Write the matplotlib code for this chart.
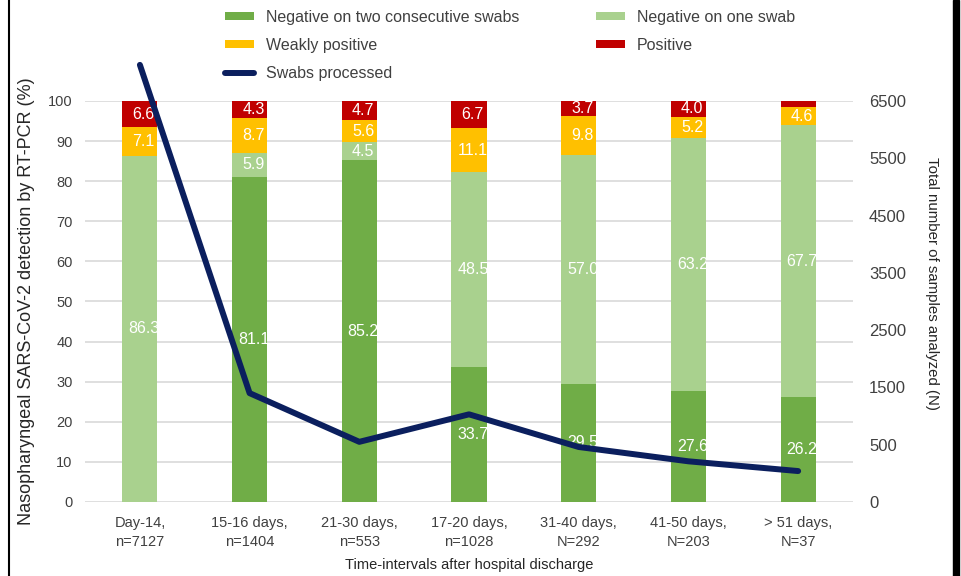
import numpy as np
import matplotlib
matplotlib.use('Agg')
import matplotlib.pyplot as plt
from matplotlib.lines import Line2D
from matplotlib.patches import Rectangle
from matplotlib.transforms import Bbox, TransformedBbox

plt.rcParams['font.family'] = ['Liberation Sans', 'DejaVu Sans']

intervals = ['Day-14,\nn=7127', '15-16 days,\nn=1404', '21-30 days,\nn=553',
             '17-20 days,\nn=1028', '31-40 days,\nN=292', '41-50 days,\nN=203',
             '> 51 days,\nN=37']
neg_two = [0, 81.1, 85.2, 33.7, 29.5, 27.6, 26.2]
neg_one = [86.3, 5.9, 4.5, 48.5, 57.0, 63.2, 67.7]
weak_pos = [7.1, 8.7, 5.6, 11.1, 9.8, 5.2, 4.6]
positive = [6.6, 4.3, 4.7, 6.7, 3.7, 4.0, 1.5]
swabs = [7130, 1400, 550, 1030, 460, 210, 40]

right_ticks = [-500, 500, 1500, 2500, 3500, 4500, 5500, 6500]
right_labels = ['0', '500', '1500', '2500', '3500', '4500', '5500', '6500']

c_neg_two = '#70ad47'
c_neg_one = '#a9d18e'
c_weak = '#ffc000'
c_pos = '#c00000'
c_line = '#0b1f5e'
txt = '#404040'

fig = plt.figure(figsize=(9.61, 5.76), dpi=100)
ax = fig.add_axes([0.0885, 0.1285, 0.7991, 0.6962])
x = np.arange(len(intervals))
w = 0.32

series = [(neg_two, c_neg_two, 'Negative on two consecutive swabs'),
          (neg_one, c_neg_one, 'Negative on one swab'),
          (weak_pos, c_weak, 'Weakly positive'),
          (positive, c_pos, 'Positive')]

bottom = np.zeros(len(x))
bars = []
for vals, col, name in series:
    vals = np.array(vals)
    b = ax.bar(x, vals, w, bottom=bottom, color=col, label=name, zorder=2)
    bars.append(b)
    for i, v in enumerate(vals):
        if v < 3:
            continue
        t = ax.text(x[i] + 0.035, bottom[i] + v / 2, f'{v:.1f}', ha='center',
                    va='center', color='white', fontsize=11.5, zorder=3)
        box = Bbox.from_bounds(x[i] - w / 2, bottom[i], w, v)
        t.set_clip_box(TransformedBbox(box, ax.transData))
        t.set_clip_on(True)
    bottom += vals

ax.set_xlim(-0.5, 6.5)
ax.set_ylim(0, 100)
ax.set_yticks(np.arange(0, 101, 10))
ax.grid(axis='y', color='#d9d9d9', lw=1.2, zorder=0)
ax.set_axisbelow(True)
for s in ax.spines.values():
    s.set_visible(False)
ax.tick_params(axis='both', length=0, colors=txt)
ax.tick_params(axis='y', labelsize=10.5, pad=9)
ax.set_xticks(x)
ax.set_xticklabels(intervals, fontsize=10.5, linespacing=1.5)
ax.tick_params(axis='x', pad=10)
ax.set_xlabel('Time-intervals after hospital discharge', fontsize=10.5,
              color='#262626', labelpad=6)
ax.set_ylabel('Nasopharyngeal SARS-CoV-2 detection by RT-PCR (%)', fontsize=13,
              color='#262626', labelpad=9)

ax2 = ax.twinx()
line, = ax2.plot(x, swabs, color=c_line, lw=4.3, solid_joinstyle='round',
                 solid_capstyle='round', clip_on=False, zorder=4,
                 label='Swabs processed')
ax2.set_ylim(-500, 6500)
ax2.set_yticks(right_ticks)
ax2.set_yticklabels(right_labels)
for s in ax2.spines.values():
    s.set_visible(False)
ax2.tick_params(axis='y', length=0, labelsize=12, colors=txt, pad=11.5)
ax2.set_ylabel('Total number of samples analyzed (N)', fontsize=10.8,
               color='#262626', rotation=-90, va='center', ha='center')
ax2.yaxis.set_label_coords(1.103, 0.546)

handles = [bars[0], bars[2], line, bars[1], bars[3]]
labels = [h.get_label() for h in handles]
leg = fig.legend(handles, labels, ncol=2, loc='upper left',
                 bbox_to_anchor=(0.234, 0.983), frameon=False, fontsize=11.5,
                 handlelength=1.8, handleheight=0.45, handletextpad=0.75,
                 columnspacing=4.85, labelspacing=0.82, borderpad=0,
                 borderaxespad=0)
for t in leg.get_texts():
    t.set_color(txt)

# black edges down both sides
fig.add_artist(Line2D([8.5 / 961] * 2, [0, 1], transform=fig.transFigure,
                      color='black', lw=1.5))
fig.add_artist(Rectangle((953 / 961, 0), 6 / 961, 1, transform=fig.transFigure,
                         color='black'))

fig.savefig('out.png', dpi=100)
